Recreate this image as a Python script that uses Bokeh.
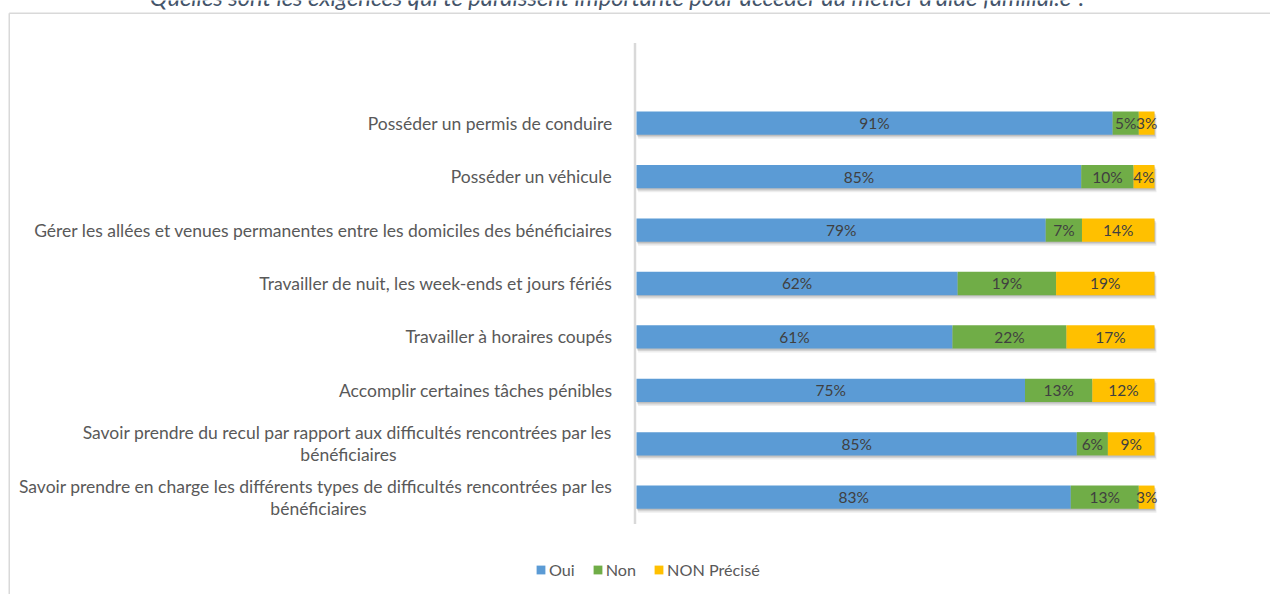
from bokeh.plotting import figure
from bokeh.models import Range1d, Legend, LegendItem, ColumnDataSource
from bokeh.core.properties import value
from bokeh.embed import file_html
from bokeh.resources import INLINE

# ---------------- data ----------------
TITLE = "Quelles sont les exigences qui te paraissent importante pour accéder au métier d'aide familial.e ?"
categories = [
    "Posséder un permis de conduire",
    "Posséder un véhicule",
    "Gérer les allées et venues permanentes entre les domiciles des bénéficiaires",
    "Travailler de nuit, les week-ends et jours fériés",
    "Travailler à horaires coupés",
    "Accomplir certaines tâches pénibles",
    "Savoir prendre du recul par rapport aux difficultés rencontrées par les\nbénéficiaires",
    "Savoir prendre en charge les différents types de difficultés rencontrées par les\nbénéficiaires",
]
series_names = ["Oui", "Non", "NON Précisé"]
oui = [91, 85, 79, 62, 61, 75, 85, 83]
non = [5, 10, 7, 19, 22, 13, 6, 13]
non_precise = [3, 4, 14, 19, 17, 12, 9, 3]
colors = ["#5B9BD5", "#70AD47", "#FFC000"]

# ---------------- layout ----------------
W, H = 1270, 594
X0 = 636.0      # canvas px of 0 %
PX = 5.18       # px per percent
Y0 = 122.7      # canvas px of first category centre
ROW = 53.43     # px per category
FONT = "Lato"
LABEL_GAP_PX = 24
LINE_HALF_PX = 11
LINE1_HALF_PX = {6: 264, 7: 294}

x_lo, x_hi = -X0 / PX, (W - X0) / PX
y_top, y_bot = -Y0 / ROW, (H - Y0) / ROW

p = figure(width=W, height=H, output_backend="svg", toolbar_location=None,
           x_range=Range1d(x_lo, x_hi), y_range=Range1d(y_bot, y_top),
           min_border=0, min_border_left=0, min_border_right=0,
           min_border_top=0, min_border_bottom=0)
p.axis.visible = False
p.grid.visible = False
p.outline_line_color = None
p.background_fill_color = "white"
p.border_fill_color = "white"

n = len(categories)
idx = list(range(n))
tot = [a + b + c for a, b, c in zip(oui, non, non_precise)]
s_oui = [a / t * 100 for a, t in zip(oui, tot)]
s_non = [b / t * 100 for b, t in zip(non, tot)]
s_np = [c / t * 100 for c, t in zip(non_precise, tot)]
e1 = s_oui
e2 = [a + b for a, b in zip(s_oui, s_non)]
e3 = [a + b + c for a, b, c in zip(s_oui, s_non, s_np)]

# outer border (only left and top edges are inside the picture)
bx = x_lo + 8.75 / PX
by = y_top + 12.7 / ROW
p.segment(x0=[bx, bx], x1=[bx, x_hi - 0.5 / PX],
          y0=[by, by], y1=[y_bot, by],
          line_color="#D9D9D9", line_width=1.5, line_cap="butt")

# title (cut at top as in the source image)
p.text(x=[(618.5 - X0) / PX], y=[y_top - 4.0 / ROW], text=[TITLE],
       text_font=value(FONT), text_font_style="italic", text_font_size="23.7px",
       text_color="#44546A", text_align="center", text_baseline="alphabetic")

# category axis line
p.segment(x0=[-1.5 / PX], x1=[-1.5 / PX], y0=[-1.5], y1=[n - 0.5],
          line_color="#D9D9D9", line_width=2.5)

bar_h = 23.3 / ROW
# shadows
for off, a in [(4.0, 0.07), (2.5, 0.10), (1.2, 0.10)]:
    p.hbar(y=[i + off / ROW for i in idx], left=[off * 0.4 / PX] * n,
           right=[v + off * 0.5 / PX for v in e3], height=bar_h,
           fill_color="black", fill_alpha=a, line_color=None)

src = ColumnDataSource(dict(y=idx, l1=[0] * n, r1=e1, l2=e1, r2=e2, l3=e2, r3=e3))
r_oui = p.hbar(y="y", left="l1", right="r1", height=bar_h, source=src,
               fill_color=colors[0], line_color=None)
r_non = p.hbar(y="y", left="l2", right="r2", height=bar_h, source=src,
               fill_color=colors[1], line_color=None)
r_np = p.hbar(y="y", left="l3", right="r3", height=bar_h, source=src,
              fill_color=colors[2], line_color=None)

# data labels
lx, ly, lt = [], [], []
for vals, lefts, rights in [(oui, [0] * n, e1), (non, e1, e2), (non_precise, e2, e3)]:
    for i in idx:
        lx.append((lefts[i] + rights[i]) / 2)
        ly.append(i)
        lt.append(f"{vals[i]}%")
p.text(x=lx, y=ly, text=lt, text_font=value(FONT), text_font_size="15.5px",
       text_color="#404040", text_align="center", text_baseline="middle")

# category labels
xr = -LABEL_GAP_PX / PX
rx, ry, rt = [], [], []
cx, cy, ct = [], [], []
for i, c in enumerate(categories):
    if "\n" in c:
        a, b = c.split("\n")
        rx.append(xr); ry.append(i - LINE_HALF_PX / ROW); rt.append(a)
        cx.append(xr - LINE1_HALF_PX[i] / PX); cy.append(i + LINE_HALF_PX / ROW); ct.append(b)
    else:
        rx.append(xr); ry.append(i); rt.append(c)
p.text(x=rx, y=ry, text=rt, text_font=value(FONT), text_font_size="17.5px",
       text_color="#595959", text_align="right", text_baseline="middle")
p.text(x=cx, y=cy, text=ct, text_font=value(FONT), text_font_size="17.5px",
       text_color="#595959", text_align="center", text_baseline="middle")

legend = Legend(items=[LegendItem(label=series_names[0], renderers=[r_oui]),
                       LegendItem(label=series_names[1], renderers=[r_non]),
                       LegendItem(label=series_names[2], renderers=[r_np])],
                orientation="horizontal", location=(535, 15),
                glyph_width=11, glyph_height=11, label_height=11, label_width=10,
                label_standoff=3, spacing=17, padding=0, margin=0,
                border_line_color=None, background_fill_alpha=0,
                label_text_font=FONT, label_text_font_size="16.2px",
                label_text_color="#595959", label_text_baseline="middle")
p.add_layout(legend)

open("out.html", "w").write(file_html(p, INLINE))
